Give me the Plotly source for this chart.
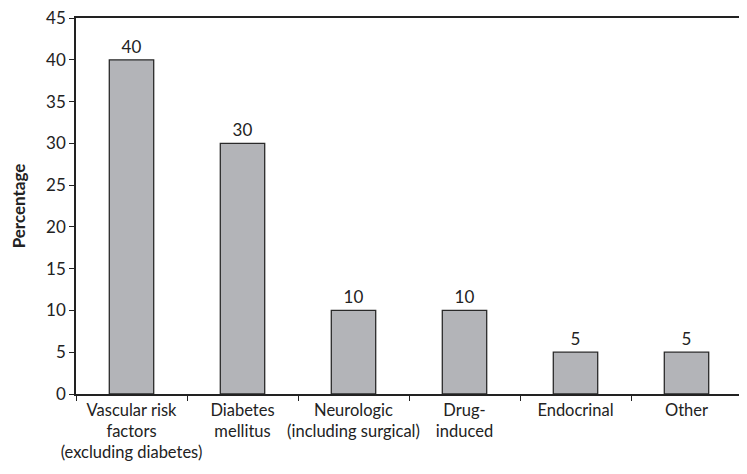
import plotly.graph_objects as go

categories = ["Vascular risk<br>factors<br>(excluding diabetes)", "Diabetes<br>mellitus",
              "Neurologic<br>(including surgical)", "Drug-<br>induced", "Endocrinal", "Other"]
values = [40, 30, 10, 10, 5, 5]

fig = go.Figure(
    go.Bar(x=categories, y=values,
           text=values, textposition="outside", cliponaxis=False,
           textfont=dict(size=17, color="#222"),
           marker_color="#b3b4b8",
           marker_line_color="#2a2a2a",
           marker_line_width=1.3,
           width=0.4))

fig.update_layout(
    width=735, height=462,
    margin=dict(l=68, r=1, t=10, b=76),
    plot_bgcolor="white", paper_bgcolor="white",
    font=dict(family="Lato, Open Sans, sans-serif", size=16, color="#222"),
    showlegend=False)

fig.update_xaxes(showline=True, linecolor="#222", linewidth=1.5, mirror=True,
                 ticks="outside", tickson="boundaries", ticklen=5, tickcolor="#222",
                 tickangle=0, automargin=False,
                 tickfont=dict(size=16.5), showgrid=False)
fig.update_yaxes(range=[0, 45], dtick=5, showline=True, linecolor="#222", linewidth=1.5,
                 mirror=True, ticks="outside", ticklen=5, tickcolor="#222",
                 showgrid=False, zeroline=False, automargin=False,
                 tickfont=dict(size=17), ticklabeloverflow="allow",
                 title=dict(text="<b>Percentage</b>", font=dict(size=17), standoff=16))

fig.write_html("out.html")
